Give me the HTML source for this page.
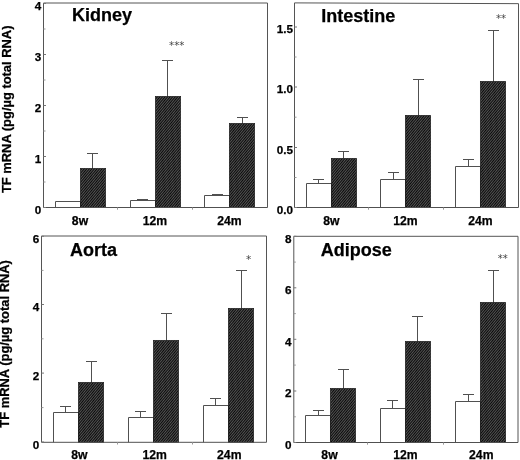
<!DOCTYPE html>
<html><head><meta charset="utf-8"><title>TF mRNA</title>
<style>
html,body{margin:0;padding:0;background:#fff;}
body{width:520px;height:460px;overflow:hidden;}
svg{display:block;}
text{stroke:#000;stroke-width:0.25;font-family:"Liberation Sans",Arial,Helvetica,sans-serif;font-weight:bold;fill:#000;}
.t{font-size:18px;}
.k{font-size:11.7px;text-anchor:end;}
.x{font-size:12.2px;text-anchor:middle;}
.y{font-size:12.2px;text-anchor:middle;}
.s{stroke:none;font-family:"DejaVu Sans","Liberation Sans",sans-serif;font-weight:normal;text-anchor:middle;fill:#444;}
.l{stroke:#505050;stroke-width:1;fill:none;}
.b{stroke:#555;stroke-width:1;fill:none;}
.m{stroke:#777;stroke-width:1;fill:none;}
.n{stroke:#999;stroke-width:1;fill:none;}
.w{fill:#fff;stroke:#505050;stroke-width:1;}
.d{fill:url(#h);stroke:#151515;stroke-width:0.6;}
</style></head><body>
<svg width="520" height="460" viewBox="0 0 520 460">
<defs><pattern id="h" width="8" height="1.95" patternUnits="userSpaceOnUse" patternTransform="rotate(-50)">
<rect width="8" height="1.95" fill="#0a0a0a"/><rect width="8" height="0.62" fill="#7c7c7c"/></pattern></defs>
<rect width="520" height="460" fill="#fff"/>

<g id="kidney">
<path class="b" d="M43.5 207.5V3L267.5 3V207.5"/>
<path class="l" d="M92.5 168.5V153.5M87.0 153.5H98.0"/>
<path class="w" d="M55.5 207.5V201.5H80.5V207.5"/>
<rect class="d" x="80.30" y="168.30" width="25.40" height="39.20"/>
<path class="l" d="M142.5 200.5V199.5M137.0 199.5H148.0"/>
<path class="l" d="M167.5 96.5V60.5M162.0 60.5H173.0"/>
<path class="w" d="M130.5 207.5V200.5H155.5V207.5"/>
<rect class="d" x="155.30" y="96.30" width="25.40" height="111.20"/>
<path class="l" d="M217.5 195.5V194.5M212.0 194.5H223.0"/>
<path class="l" d="M242.5 123.5V117.5M237.0 117.5H248.0"/>
<path class="w" d="M204.5 207.5V195.5H229.5V207.5"/>
<rect class="d" x="229.30" y="123.30" width="25.40" height="84.20"/>
<path class="l" d="M43.5 207.5H267.5"/>
<path class="n" d="M117.5 207.5v2.2"/>
<path class="n" d="M192.5 207.5v2.2"/>
<path class="n" d="M43.5 29.0h2"/>
<path class="n" d="M43.5 80.0h2"/>
<path class="n" d="M43.5 131.0h2"/>
<path class="n" d="M43.5 182.0h2"/>
<path class="m" d="M43.5 3.5h2.5"/>
<text class="k" x="41.3" y="9.8">4</text>
<path class="m" d="M43.5 54.5h2.5"/>
<text class="k" x="41.3" y="60.8">3</text>
<path class="m" d="M43.5 105.5h2.5"/>
<text class="k" x="41.3" y="111.8">2</text>
<path class="m" d="M43.5 156.5h2.5"/>
<text class="k" x="41.3" y="162.8">1</text>
<path class="m" d="M43.5 207.5h2.5"/>
<text class="k" x="41.3" y="213.8">0</text>
<text class="t" x="72" y="21.3">Kidney</text>
<text class="s" x="176.7" y="49.0" font-size="10.2">***</text>
<text class="x" x="80" y="224.8">8w</text>
<text class="x" x="155" y="224.8">12m</text>
<text class="x" x="229.5" y="224.8">24m</text>
<text class="y" textLength="167.6" lengthAdjust="spacingAndGlyphs" transform="translate(10.6 109.3) rotate(-90)">TF mRNA (pg/µg total RNA)</text>
</g>
<g id="intestine">
<path class="b" d="M294.5 207.5V2.9L518.5 3.65V207.5"/>
<path class="l" d="M318.5 183.5V179.5M313.0 179.5H324.0"/>
<path class="l" d="M343.5 158.5V151.5M338.0 151.5H349.0"/>
<path class="w" d="M306.5 207.5V183.5H331.5V207.5"/>
<rect class="d" x="331.30" y="158.30" width="25.40" height="49.20"/>
<path class="l" d="M393.5 179.5V172.5M388.0 172.5H399.0"/>
<path class="l" d="M418.5 115.5V79.5M413.0 79.5H424.0"/>
<path class="w" d="M380.5 207.5V179.5H405.5V207.5"/>
<rect class="d" x="405.30" y="115.30" width="25.40" height="92.20"/>
<path class="l" d="M468.5 166.5V159.5M463.0 159.5H474.0"/>
<path class="l" d="M493.5 81.5V30.5M488.0 30.5H499.0"/>
<path class="w" d="M455.5 207.5V166.5H480.5V207.5"/>
<rect class="d" x="480.30" y="81.30" width="25.40" height="126.20"/>
<path class="l" d="M294.5 207.5H518.5"/>
<path class="n" d="M368.5 207.5v2.2"/>
<path class="n" d="M443.5 207.5v2.2"/>
<path class="n" d="M294.5 57.0h2"/>
<path class="n" d="M294.5 117.2h2"/>
<path class="n" d="M294.5 177.5h2"/>
<path class="m" d="M294.5 27h2.5"/>
<text class="k" x="293.0" y="33.3">1.5</text>
<path class="m" d="M294.5 87h2.5"/>
<text class="k" x="293.0" y="93.3">1.0</text>
<path class="m" d="M294.5 147.5h2.5"/>
<text class="k" x="293.0" y="153.8">0.5</text>
<path class="m" d="M294.5 207.5h2.5"/>
<text class="k" x="293.0" y="213.8">0.0</text>
<text class="t" x="321.3" y="22">Intestine</text>
<text class="s" x="501.1" y="22.4" font-size="10.2">**</text>
<text class="x" x="331.3" y="224.8">8w</text>
<text class="x" x="405.5" y="224.8">12m</text>
<text class="x" x="480.5" y="224.8">24m</text>
</g>
<g id="aorta">
<path class="b" d="M41.5 442.3V236.0L266.5 236.0V442.3"/>
<path class="l" d="M65.5 412.5V406.5M60.0 406.5H71.0"/>
<path class="l" d="M91.5 382.5V361.5M86.0 361.5H97.0"/>
<path class="w" d="M53.5 442.3V412.5H78.5V442.3"/>
<rect class="d" x="78.30" y="382.30" width="25.40" height="60.00"/>
<path class="l" d="M140.5 417.5V411.5M135.0 411.5H146.0"/>
<path class="l" d="M166.5 340.5V313.5M161.0 313.5H172.0"/>
<path class="w" d="M128.5 442.3V417.5H153.5V442.3"/>
<rect class="d" x="153.30" y="340.30" width="25.40" height="102.00"/>
<path class="l" d="M215.5 405.5V398.5M210.0 398.5H221.0"/>
<path class="l" d="M241.5 308.5V270.5M236.0 270.5H247.0"/>
<path class="w" d="M203.5 442.3V405.5H228.5V442.3"/>
<rect class="d" x="228.30" y="308.30" width="25.40" height="134.00"/>
<path class="l" d="M41.5 442.3H266.5"/>
<path class="n" d="M117.5 442.3v2.2"/>
<path class="n" d="M192.5 442.3v2.2"/>
<path class="n" d="M41.5 270.4h2"/>
<path class="n" d="M41.5 338.8h2"/>
<path class="n" d="M41.5 407.6h2"/>
<path class="m" d="M41.5 236.3h2.5"/>
<text class="k" x="39.3" y="243.2">6</text>
<path class="m" d="M41.5 304.5h2.5"/>
<text class="k" x="39.3" y="311.4">4</text>
<path class="m" d="M41.5 373.1h2.5"/>
<text class="k" x="39.3" y="380.0">2</text>
<path class="m" d="M41.5 442.0h2.5"/>
<text class="k" x="39.3" y="448.9">0</text>
<text class="t" x="70" y="255.5">Aorta</text>
<text class="s" x="248.5" y="263.1" font-size="10.5">*</text>
<text class="x" x="79.4" y="458.8">8w</text>
<text class="x" x="154.7" y="458.8">12m</text>
<text class="x" x="229.3" y="458.8">24m</text>
<text class="y" textLength="167.6" lengthAdjust="spacingAndGlyphs" transform="translate(9.3 343.9) rotate(-90)">TF mRNA (pg/µg total RNA)</text>
</g>
<g id="adipose">
<path class="b" d="M293.8 442.5V236.3L518 236.3V442.5"/>
<path class="l" d="M318.5 415.5V410.5M313.0 410.5H324.0"/>
<path class="l" d="M343.5 388.5V369.5M338.0 369.5H349.0"/>
<path class="w" d="M305.5 442.5V415.5H330.5V442.5"/>
<rect class="d" x="330.30" y="388.30" width="25.40" height="54.20"/>
<path class="l" d="M392.5 408.5V400.5M387.0 400.5H398.0"/>
<path class="l" d="M417.5 341.5V316.5M412.0 316.5H423.0"/>
<path class="w" d="M380.5 442.5V408.5H405.5V442.5"/>
<rect class="d" x="405.30" y="341.30" width="25.40" height="101.20"/>
<path class="l" d="M468.5 401.5V394.5M463.0 394.5H474.0"/>
<path class="l" d="M493.5 302.5V270.5M488.0 270.5H499.0"/>
<path class="w" d="M455.5 442.5V401.5H480.5V442.5"/>
<rect class="d" x="480.30" y="302.30" width="25.40" height="140.20"/>
<path class="l" d="M293.8 442.5H518"/>
<path class="n" d="M367.5 442.5v2.2"/>
<path class="n" d="M443.5 442.5v2.2"/>
<path class="n" d="M293.8 262.1h2"/>
<path class="n" d="M293.8 313.6h2"/>
<path class="n" d="M293.8 365.1h2"/>
<path class="n" d="M293.8 416.8h2"/>
<path class="m" d="M293.8 236.3h2.5"/>
<text class="k" x="291.6" y="242.6">8</text>
<path class="m" d="M293.8 287.8h2.5"/>
<text class="k" x="291.6" y="294.1">6</text>
<path class="m" d="M293.8 339.3h2.5"/>
<text class="k" x="291.6" y="345.6">4</text>
<path class="m" d="M293.8 391h2.5"/>
<text class="k" x="291.6" y="397.3">2</text>
<path class="m" d="M293.8 442.5h2.5"/>
<text class="k" x="291.6" y="448.8">0</text>
<text class="t" x="320.8" y="255.5">Adipose</text>
<text class="s" x="502.8" y="261.6" font-size="10">**</text>
<text class="x" x="329.5" y="458.8">8w</text>
<text class="x" x="405.5" y="458.8">12m</text>
<text class="x" x="481.3" y="458.8">24m</text>
</g>
</svg></body></html>
